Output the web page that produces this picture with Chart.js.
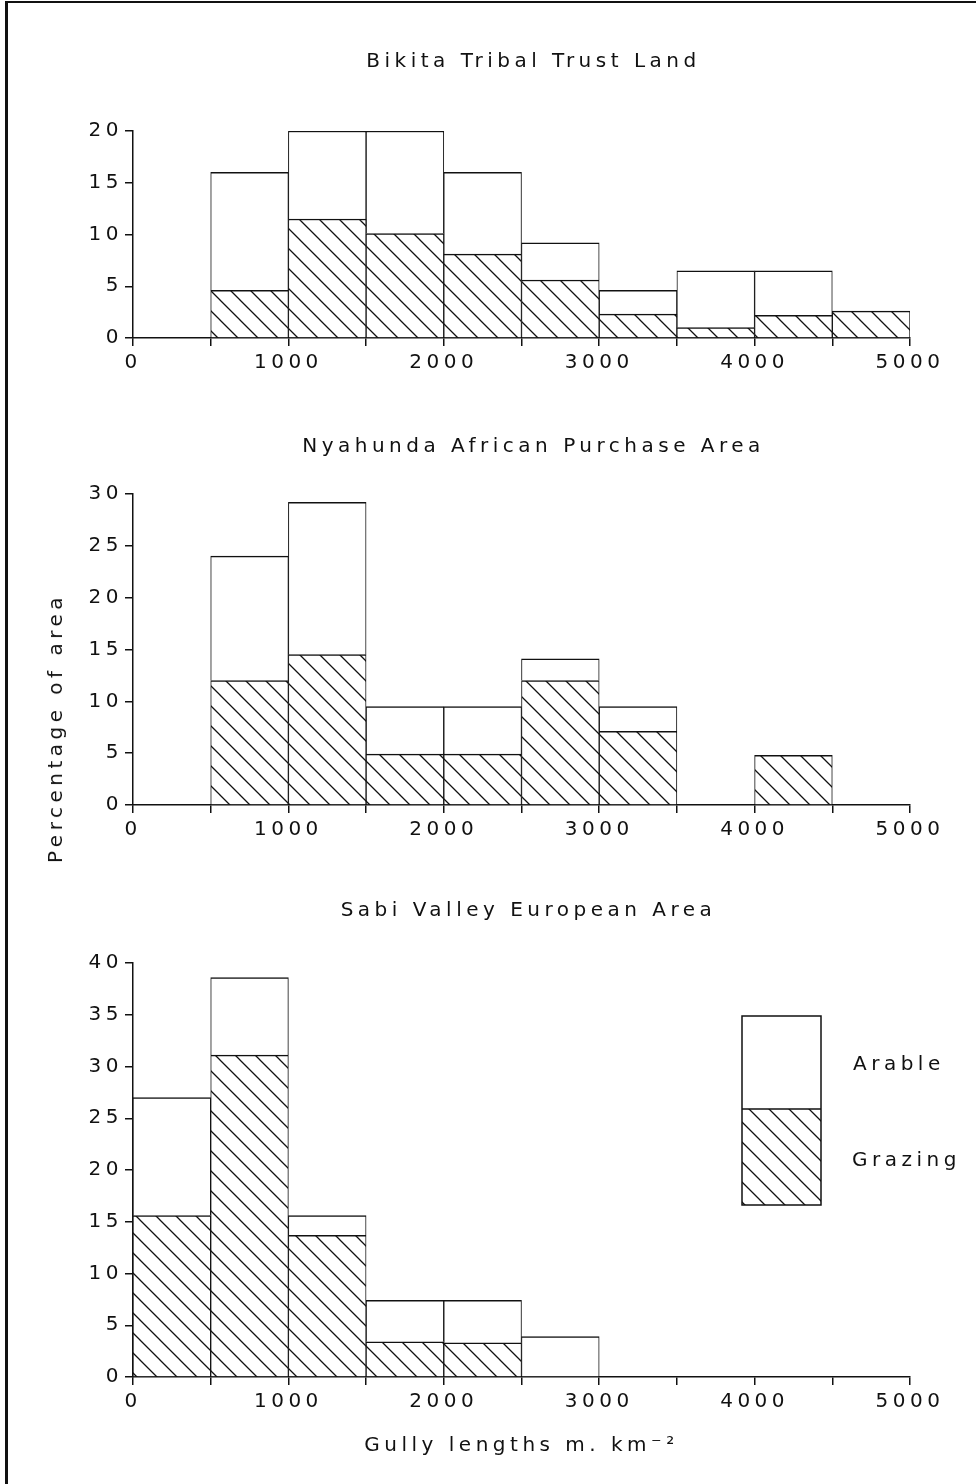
<!DOCTYPE html>
<html>
<head>
<meta charset="utf-8">
<script src="https://cdn.jsdelivr.net/npm/chart.js@4.4.1/dist/chart.umd.min.js"></script>
<style>
  html, body { margin: 0; padding: 0; background: #fff; }
  body { width: 976px; height: 1484px; position: relative; overflow: hidden; font-family: 'DejaVu Sans', sans-serif; }
  #frame { position: absolute; left: 5px; top: 1px; width: 990px; height: 1500px; border-top: 2px solid #111; border-left: 3px solid #111; }
  canvas { position: absolute; left: 0; }
  #ylabel { position: absolute; left: 55px; top: 728px; transform: translate(-50%, -50%) rotate(-90deg);
            white-space: nowrap; font-size: 20px; letter-spacing: 4.5px; color: #111; }
</style>
</head>
<body>
<div id="frame"></div>
<canvas id="c1" width="976" height="363" style="top:20px"></canvas>
<canvas id="c2" width="976" height="455" style="top:395px"></canvas>
<canvas id="c3" width="976" height="624" style="top:860px"></canvas>
<div id="ylabel">Percentage of area</div>
<script>
// Gully length bins (m km-2), 500 wide, given by their centres
const binCentres = [250, 750, 1250, 1750, 2250, 2750, 3250, 3750, 4250, 4750];

// Bikita Tribal Trust Land - stacked: grazing at the bottom, arable on top
const bikitaGrazing = [0, 4.6, 11.5, 10.1, 8.1, 5.6, 2.3, 1.0, 2.2, 2.6];
const bikitaArable  = [0, 11.4, 8.5, 9.9, 7.9, 3.6, 2.3, 5.5, 4.3, 0];

// Nyahunda African Purchase Area
const nyahundaGrazing = [0, 12.0, 14.5, 4.9, 4.9, 12.0, 7.1, 0, 4.8, 0];
const nyahundaArable  = [0, 12.0, 14.7, 4.6, 4.6, 2.1, 2.4, 0, 0, 0];

// Sabi Valley European Area
const sabiGrazing = [15.6, 31.1, 13.7, 3.4, 3.3, 0, 0, 0, 0, 0];
const sabiArable  = [11.4, 7.5, 1.9, 4.0, 4.1, 3.9, 0, 0, 0, 0];

const ink = '#111';
Chart.defaults.font.family = "'DejaVu Sans', sans-serif";
Chart.defaults.color = ink;

// diagonal hatch used for the grazing bars
function makeHatch() {
    const c = document.createElement('canvas');
    c.width = 20; c.height = 20;
    const g = c.getContext('2d');
    g.fillStyle = '#fff';
    g.fillRect(0, 0, 20, 20);
    g.strokeStyle = ink;
    g.lineWidth = 1.3;
    g.beginPath();
    g.moveTo(-2, -2); g.lineTo(22, 22);
    g.moveTo(18, -2); g.lineTo(22, 2);
    g.moveTo(-2, 18); g.lineTo(2, 22);
    g.stroke();
    return g.createPattern(c, 'repeat');
}
const hatch = makeHatch();

// the scanned lettering is widely spaced
const spacing = {
    id: 'spacing',
    beforeDraw(chart) { chart.ctx.letterSpacing = '4.5px'; }
};

// titles sit a little right of the plot centre in the original
const titleShift = {
    id: 'titleShift',
    afterLayout(chart, args, opts) {
        const t = chart.titleBlock;
        if (t) { t.left += opts.dx || 0; t.right += opts.dx || 0; }
    }
};

// stacked box legend drawn inside the bottom panel
const boxLegend = {
    id: 'boxLegend',
    afterDatasetsDraw(chart) {
        const { ctx, chartArea } = chart;
        const x = chartArea.left + 609, w = 79;
        const top = chartArea.top + 53, mid = chartArea.top + 146, bottom = chartArea.top + 242;
        ctx.save();
        ctx.fillStyle = '#fff';
        ctx.fillRect(x, top, w, mid - top);
        ctx.fillStyle = hatch;
        ctx.fillRect(x, mid, w, bottom - mid);
        ctx.strokeStyle = ink;
        ctx.lineWidth = 1.5;
        ctx.strokeRect(x, top, w, bottom - top);
        ctx.beginPath();
        ctx.moveTo(x, mid); ctx.lineTo(x + w, mid);
        ctx.stroke();
        ctx.fillStyle = ink;
        ctx.font = "20px 'DejaVu Sans', sans-serif";
        ctx.textBaseline = 'middle';
        ctx.fillText('Arable', chartArea.left + 720, chartArea.top + 102);
        ctx.fillText('Grazing', chartArea.left + 719, chartArea.top + 198);
        ctx.restore();
    }
};

function toPoints(values) {
    return values.map((v, i) => ({ x: binCentres[i], y: v }));
}

function makePanel(id, title, titlePad, titleDx, grazing, arable, yMax, opts) {
    const barStyle = {
        borderColor: ink,
        borderWidth: { top: 1.5, left: 1, right: 1, bottom: 0 },
        barPercentage: 1,
        categoryPercentage: 1
    };
    return new Chart(document.getElementById(id), {
        type: 'bar',
        data: {
            datasets: [
                { label: 'Grazing', data: toPoints(grazing), backgroundColor: hatch, ...barStyle },
                { label: 'Arable', data: toPoints(arable), backgroundColor: '#fff', ...barStyle }
            ]
        },
        options: {
            responsive: false,
            animation: false,
            events: [],
            layout: { padding: { left: 0, right: 66, top: 0, bottom: 0 } },
            plugins: {
                legend: { display: false },
                tooltip: { enabled: false },
                titleShift: { dx: titleDx },
                title: {
                    display: true,
                    text: title,
                    fullSize: false,
                    color: ink,
                    font: { size: 20, weight: 'normal' },
                    padding: titlePad
                }
            },
            scales: {
                x: {
                    type: 'linear',
                    stacked: true,
                    offset: false,
                    min: 0,
                    max: 5000,
                    afterFit: s => { s.height = opts.xHeight; },
                    ticks: {
                        stepSize: 500,
                        autoSkip: false,
                        maxRotation: 0,
                        padding: 5,
                        color: ink,
                        font: { size: 20 },
                        callback: v => (v % 1000 === 0 ? v : '')
                    },
                    grid: { offset: false, drawOnChartArea: false, drawTicks: true, tickLength: 8, color: ink, lineWidth: 1.5 },
                    border: { display: true, color: ink, width: 1.5 },
                    title: opts.xTitle ? {
                        display: true,
                        text: opts.xTitle,
                        color: ink,
                        font: { size: 20 },
                        padding: { top: 0, bottom: 26 }
                    } : { display: false }
                },
                y: {
                    stacked: true,
                    min: 0,
                    max: yMax,
                    afterFit: s => { s.width = 133; },
                    ticks: { stepSize: 5, padding: 2, color: ink, font: { size: 20 } },
                    grid: { drawOnChartArea: false, drawTicks: true, tickLength: 8, color: ink, lineWidth: 1.5 },
                    border: { display: true, color: ink, width: 1.5 }
                }
            }
        },
        plugins: opts.legend ? [spacing, titleShift, boxLegend] : [spacing, titleShift]
    });
}

makePanel('c1', 'Bikita Tribal Trust Land', { top: 30, bottom: 57 }, 12,
    bikitaGrazing, bikitaArable, 20, { xHeight: 45 });
makePanel('c2', 'Nyahunda African Purchase Area', { top: 40, bottom: 35 }, 12,
    nyahundaGrazing, nyahundaArable, 30, { xHeight: 45 });
makePanel('c3', 'Sabi Valley European Area', { top: 39, bottom: 40 }, 7,
    sabiGrazing, sabiArable, 40, { xHeight: 107, xTitle: 'Gully lengths m. km\u207B\u00B2', legend: true });
</script>
</body>
</html>
